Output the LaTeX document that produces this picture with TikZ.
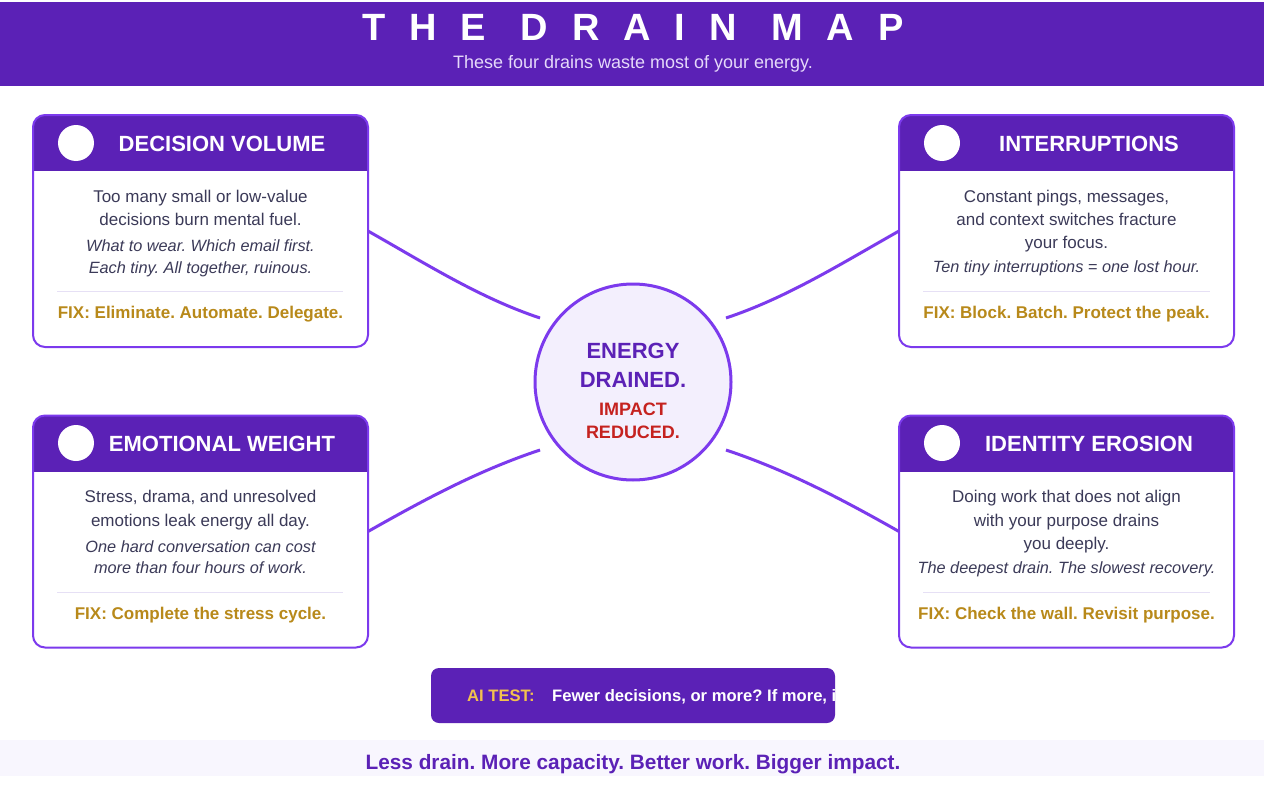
\documentclass[tikz,border=0pt]{standalone}
\usepackage{fontspec}
\setmainfont{Liberation Sans}
\usetikzlibrary{calc}
\frenchspacing
\definecolor{hdr}{HTML}{5B21B6}
\definecolor{bord}{HTML}{7C3AED}
\definecolor{txt}{HTML}{3B3A58}
\definecolor{gold}{HTML}{B8891A}
\definecolor{aigold}{HTML}{F2C14E}
\definecolor{redx}{HTML}{C5221F}
\definecolor{hubfill}{HTML}{F3EFFD}
\definecolor{subc}{HTML}{E5D9FA}
\definecolor{footbg}{HTML}{F8F6FE}
\definecolor{sepc}{HTML}{E6E0F5}
\newcommand\cardframe[1]{%
  \fill[white, rounded corners=12pt] (#1.north west) rectangle (#1.south east);
  \begin{scope}
    \clip[rounded corners=12pt] (#1.north west) rectangle (#1.south east);
    \fill[hdr] (#1.north west) rectangle ([yshift=-56pt]#1.north east);
  \end{scope}
  \draw[bord, line width=2pt, rounded corners=12pt] (#1.north west) rectangle (#1.south east);
}
\begin{document}
\frenchspacing
\begin{tikzpicture}[x=1pt,y=-1pt,
  card/.style={minimum width=335pt, minimum height=232pt, inner sep=0pt, outer sep=0pt, draw=none},
  icon/.style={circle, fill=white, minimum size=36pt, inner sep=0pt},
  ctitle/.style={anchor=base, text=white, font=\fontsize{22}{26}\selectfont\bfseries},
  body/.style={anchor=base, text=txt, font=\fontsize{17}{20}\selectfont},
  note/.style={anchor=base, text=txt, font=\fontsize{16.3}{20}\selectfont\itshape},
  fix/.style={anchor=base, text=gold, font=\fontsize{17}{20}\selectfont\bfseries},
  sepline/.style={sepc, line width=1pt},
  conn/.style={bord, line width=3pt},
  hub/.style={circle, fill=hubfill, draw=bord, line width=3pt, minimum size=196pt, inner sep=0pt},
  hubtxt/.style={anchor=base, text=hdr, font=\fontsize{22}{26}\selectfont\bfseries},
  hubred/.style={anchor=base, text=redx, font=\fontsize{18}{22}\selectfont\bfseries}
]
\useasboundingbox (0,0) rectangle (1264,792);
\fill[white] (0,0) rectangle (1264,792);
% header
\fill[hdr] (0,2) rectangle (1264,86);
\node[anchor=base, text=white, font=\fontsize{38}{42}\selectfont\bfseries] (title) at (633,41) {\addfontfeature{LetterSpace=63}THE DRAIN MAP};
\node[anchor=base, text=subc, font=\fontsize{18}{22}\selectfont] (subtitle) at (633,68.5) {These four drains waste most of your energy.};

% nodes
\node[card] (dv) at (200.5,231) {};
\node[card] (int) at (1066.5,231) {};
\node[card] (ew) at (200.5,531.5) {};
\node[card] (ie) at (1066.5,531.5) {};
\node[hub] (hub) at (633,382) {};
\coordinate (h1) at (540,318);
\coordinate (h2) at (726,318);
\coordinate (h3) at (540,450);
\coordinate (h4) at (726,450);

% connectors
\draw[conn] (dv.east) .. controls +(60,34) and +(-60,-20) .. (h1);
\draw[conn] (int.west) .. controls +(-60,34) and +(60,-20) .. (h2);
\draw[conn] (ew.east) .. controls +(60,-34) and +(-60,20) .. (h3);
\draw[conn] (ie.west) .. controls +(-60,-34) and +(60,20) .. (h4);

% card frames
\cardframe{dv}
\cardframe{int}
\cardframe{ew}
\cardframe{ie}

% decision volume
\node[icon] (dvi) at (76,143) {};
\node[ctitle] (dvt) at (222,151) {DECISION VOLUME};
\node[body] (dv1) at (200.5,202) {Too many small or low-value};
\node[body] (dv2) at (200.5,225) {decisions burn mental fuel.};
\node[note] (dv3) at (200.5,251) {What to wear. Which email first.};
\node[note] (dv4) at (200.5,273) {Each tiny. All together, ruinous.};
\draw[sepline] (57,291) -- (343,291);
\node[fix] (dvf) at (200.5,318) {FIX: Eliminate. Automate. Delegate.};

% interruptions
\node[icon] (inti) at (942,143) {};
\node[ctitle] (intt) at (1089,151) {INTERRUPTIONS};
\node[body] (int1) at (1066.5,202) {Constant pings, messages,};
\node[body] (int2) at (1066.5,225) {and context switches fracture};
\node[body] (int3) at (1066.5,248) {your focus.};
\node[note] (int4) at (1066.5,272) {Ten tiny interruptions = one lost hour.};
\draw[sepline] (923,291) -- (1210,291);
\node[fix] (intf) at (1066.5,318) {FIX: Block. Batch. Protect the peak.};

% emotional weight
\node[icon] (ewi) at (76,443) {};
\node[ctitle] (ewt) at (222,451) {EMOTIONAL WEIGHT};
\node[body] (ew1) at (200.5,502) {Stress, drama, and unresolved};
\node[body] (ew2) at (200.5,526) {emotions leak energy all day.};
\node[note] (ew3) at (200.5,552) {One hard conversation can cost};
\node[note] (ew4) at (200.5,573) {more than four hours of work.};
\draw[sepline] (57,592) -- (343,592);
\node[fix] (ewf) at (200.5,619) {FIX: Complete the stress cycle.};

% identity erosion
\node[icon] (iei) at (942,443) {};
\node[ctitle] (iet) at (1089,451) {IDENTITY EROSION};
\node[body] (ie1) at (1066.5,502) {Doing work that does not align};
\node[body] (ie2) at (1066.5,526) {with your purpose drains};
\node[body] (ie3) at (1066.5,549) {you deeply.};
\node[note] (ie4) at (1066.5,573) {The deepest drain. The slowest recovery.};
\draw[sepline] (923,592) -- (1210,592);
\node[fix] (ief) at (1066.5,619) {FIX: Check the wall. Revisit purpose.};

% hub text
\node[hubtxt] (hb1) at (633,358) {ENERGY};
\node[hubtxt] (hb2) at (633,387) {DRAINED.};
\node[hubred] (hb3) at (633,415.5) {IMPACT};
\node[hubred] (hb4) at (633,438.5) {REDUCED.};

% AI test bar
\fill[hdr, rounded corners=8pt] (431,668) rectangle (835,723);
\begin{scope}
  \clip (431,668) rectangle (835,723);
  \node[anchor=base west, text=aigold, font=\fontsize{16.6}{20}\selectfont\bfseries, inner sep=0pt] (ai) at (467,701) {AI TEST:};
  \node[anchor=base west, text=white, font=\fontsize{16.6}{20}\selectfont\bfseries, inner sep=0pt] (aitxt) at (552,701) {Fewer decisions, or more? If more, it};
\end{scope}

% footer
\fill[footbg] (0,740) rectangle (1264,776);
\node[anchor=base, text=hdr, font=\fontsize{20.8}{24}\selectfont\bfseries] (foot) at (633,769) {Less drain. More capacity. Better work. Bigger impact.};
\end{tikzpicture}
\end{document}
